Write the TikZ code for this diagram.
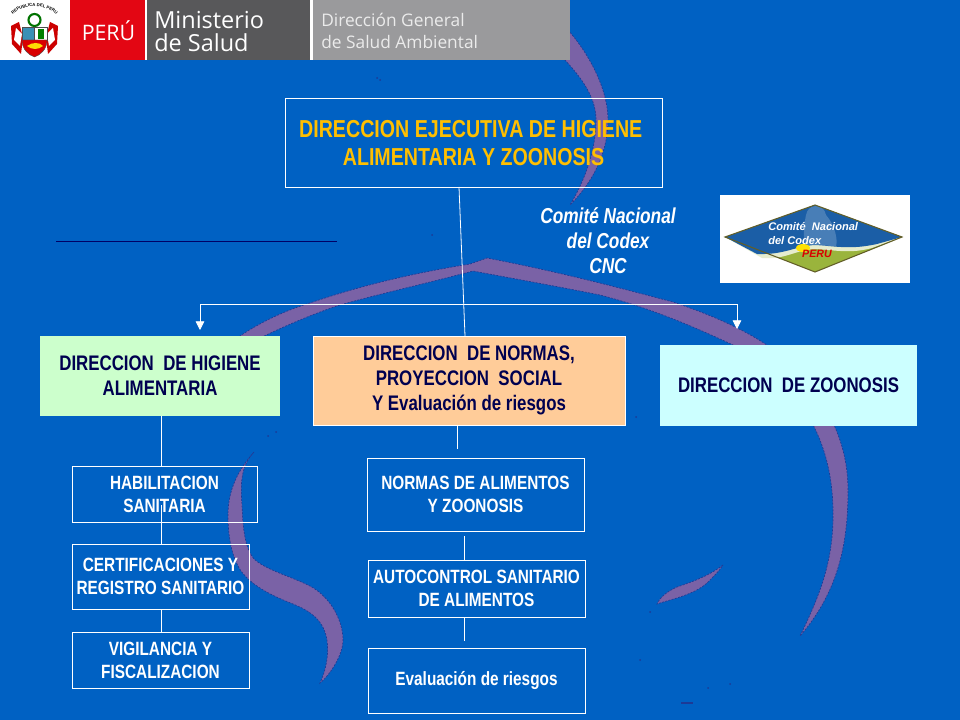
\documentclass[tikz,border=0pt]{standalone}
\usepackage{fontspec}
\setmainfont{Liberation Sans}
\newfontfamily\narrowf[FakeStretch=0.8]{Liberation Sans}
\newfontfamily\openf{Open Sans}
\usetikzlibrary{arrows.meta,decorations.text}
\definecolor{bgblue}{HTML}{0061C3}
\definecolor{swoosh}{HTML}{7A62A6}
\definecolor{swedge}{HTML}{1C3A96}
\definecolor{navytxt}{HTML}{000050}
\definecolor{gold}{HTML}{FFBF00}
\definecolor{minred}{HTML}{E30613}
\definecolor{mindark}{HTML}{58585A}
\definecolor{mingray}{HTML}{9A9A9C}
\definecolor{lgreen}{HTML}{CCFFCC}
\definecolor{lorange}{HTML}{FFCC99}
\definecolor{lcyan}{HTML}{CCFFFF}
\definecolor{logoblue}{HTML}{1B5EA6}
\definecolor{logogreen}{HTML}{9AB43C}
\tikzset{
  x=0.75pt,y=-0.75pt,
  wh/.style 2 args={minimum width=#1*0.75pt,minimum height=#2*0.75pt},
  base/.style={inner sep=0pt,align=center,anchor=center},
  band/.style={inner sep=0pt,draw=none},
  sub/.style={base,draw=white,line width=0.55pt,text=white,font=\narrowf\bfseries\fontsize{14.4}{17.2}\selectfont},
  main/.style={base,draw=white,line width=0.55pt,text=navytxt,font=\narrowf\bfseries\fontsize{15.8}{18.6}\selectfont},
  wire/.style={draw=white,line width=0.6pt},
  sw/.style={fill=swoosh,draw=swedge,line width=0.5pt,dash pattern=on 1.5pt off 1pt},
  speck/.style={fill=swedge,draw=none},
}
\begin{document}
\begin{tikzpicture}
\useasboundingbox[fill=bgblue] (0,0) rectangle (960,720);

% swooshes
\path[sw] (568,30) .. controls (590,55) and (608,90) .. (608,120)
  .. controls (608,150) and (595,180) .. (570,205)
  .. controls (585,180) and (596,150) .. (596,120)
  .. controls (596,100) and (585,80) .. (560,55) -- cycle;
\path[sw] (200,372) .. controls (225,340) and (270,315) .. (310,303)
  .. controls (365,284) and (420,272) .. (470,264) -- (487,258)
  .. controls (560,272) and (620,288) .. (673,302)
  .. controls (720,318) and (790,345) .. (820,400)
  .. controls (840,430) and (848,460) .. (848,490)
  .. controls (848,540) and (840,590) .. (800,636)
  .. controls (820,595) and (834,560) .. (833,510)
  .. controls (832,450) and (810,390) .. (733,345)
  .. controls (690,325) and (650,308) .. (600,295)
  .. controls (550,285) and (510,278) .. (473,271)
  .. controls (420,285) and (375,295) .. (340,305)
  .. controls (300,318) and (240,345) .. (200,372) -- cycle;
\path[sw] (723,565) .. controls (710,575) and (695,581) .. (677,587)
  .. controls (668,591) and (660,597) .. (657,604)
  .. controls (668,600) and (695,595) .. (708,582)
  .. controls (714,576) and (720,570) .. (723,565) -- cycle;
\path[sw] (254,452) .. controls (242,465) and (240,480) .. (242,505)
  .. controls (243,530) and (245,548) .. (254,559)
  .. controls (266,570) and (290,576) .. (310,586)
  .. controls (332,598) and (343,622) .. (343,640)
  .. controls (343,655) and (330,675) .. (320,683)
  .. controls (326,670) and (329,655) .. (327,640)
  .. controls (324,622) and (313,612) .. (293,604)
  .. controls (273,596) and (253,587) .. (241,571)
  .. controls (231,556) and (228,535) .. (228,515)
  .. controls (228,490) and (238,470) .. (254,452) -- cycle;

% specks
\fill[speck] (681,702) rectangle (693,704);
\foreach \sx/\sy in {380/80,432/235,615/410,636/417,268/436,276/432,650/612,708/688,640/660,377/78,730/684}{
  \fill[speck] (\sx,\sy) circle[radius=1];
}

% header band
\fill[white] (0,0) rectangle (570,60);
\node[band,fill=minred,wh={75}{60},anchor=north west] (hr) at (70,0) {};
\node[band,fill=mindark,wh={163}{60},anchor=north west] (hd) at (147,0) {};
\node[band,fill=mingray,wh={257}{60},anchor=north west] (hg) at (313,0) {};
\node[text=white,inner sep=0pt,font=\openf\fontsize{16}{16}\selectfont] (tperu) at (108.5,31) {PERÚ};
\node[text=white,inner sep=0pt,anchor=base west,font=\openf\fontsize{17.6}{18}\selectfont] (tmin) at (154,29) {Ministerio};
\node[text=white,inner sep=0pt,anchor=base west,font=\openf\fontsize{17.6}{18}\selectfont] (tsal) at (154,52) {de Salud};
\node[text=white!92!black,inner sep=0pt,align=left,anchor=west,font=\openf\fontsize{13}{16}\selectfont] (tdir) at (321,31) {Dirección General\\de Salud Ambiental};
% coat of arms
\draw[green!45!black,line width=1.6pt] (34.5,20) circle[radius=6];
\fill[red!80!black] (11,26) -- (19,22) -- (23,38) -- (21,54) -- (12,44) -- cycle;
\fill[red!80!black] (58,26) -- (50,22) -- (46,38) -- (48,54) -- (57,44) -- cycle;
\fill[white] (16,28) -- (14,40) -- (20,46) -- (22,34) -- cycle;
\fill[white] (53,28) -- (55,40) -- (49,46) -- (47,34) -- cycle;
\fill[cyan!70!black,draw=black!70,line width=0.3pt] (22,27) rectangle (34,40);
\fill[white,draw=black!70,line width=0.3pt] (34,27) rectangle (47,40);
\fill[green!50!black] (38,29) rectangle (44,39);
\fill[red!85!black,draw=black!70,line width=0.3pt] (22,40) -- (47,40) .. controls (47,50) and (40,55) .. (34.5,57) .. controls (29,55) and (22,50) .. (22,40) -- cycle;
\fill[yellow!80!orange] (27,46) .. controls (32,42) and (40,42) .. (43,46) .. controls (38,50) and (32,50) .. (27,46) -- cycle;
\path[decorate,decoration={text along path,text align=center,text={|\fontsize{3.2}{4}\selectfont\bfseries\color{black}|REPUBLICA DEL PERU}}]
  (8,22) .. controls (16,1) and (53,1) .. (61,22);

% logo
\node[band,fill=white,wh={190}{88},anchor=north west] (logo) at (720,195) {};
\fill[logogreen] (725,237) -- (815,205) -- (902,237) -- (815,272) -- cycle;
\fill[white!75!logogreen] (725,237) -- (815,205) -- (902,237) -- (872,248) .. controls (850,254) and (835,250) .. (815,249) .. controls (795,250) and (785,260) .. (762,258) -- cycle;
\fill[logoblue] (725,237) -- (815,205) -- (902,237) -- (877,244) .. controls (850,250) and (835,246) .. (815,245) .. controls (795,246) and (785,255) .. (757,254) -- cycle;
\fill[white,opacity=0.2] (806,215) .. controls (808,203) and (824,203) .. (826,215) .. controls (835,225) and (838,240) .. (836,246) -- (805,245) .. controls (803,235) and (804,225) .. (806,215) -- cycle;
\fill[yellow!85!orange] (803,248) ellipse[x radius=7,y radius=4];
\draw[olive!60!black,line width=0.8pt] (725,237) -- (815,205) -- (902,237) -- (815,272) -- cycle;
\node[text=white,inner sep=0pt,align=left,anchor=west,font=\bfseries\itshape\fontsize{8.3}{9.8}\selectfont] (ltxt) at (768,233.5) {Comité\ \ Nacional\\del Codex};
\node[text=red!85!black,inner sep=0pt,font=\bfseries\itshape\fontsize{8}{8}\selectfont] (lper) at (817,254) {PERU};

% dark rule
\coordinate (ra) at (56,241);
\coordinate (rb) at (337,241);
\draw[draw=blue!40!black,line width=0.55pt] (ra) -- (rb);

% boxes
\node[base,draw=white,line width=0.55pt,wh={377}{89},text=gold,font=\narrowf\bfseries\fontsize{18.4}{21.6}\selectfont] (top) at (473.5,143) {DIRECCION EJECUTIVA DE HIGIENE\ \ \\ALIMENTARIA Y ZOONOSIS};
\node[base,text=white,font=\narrowf\bfseries\itshape\fontsize{16.2}{18.8}\selectfont] (cnc) at (608,241) {Comité Nacional\\del Codex\\CNC};

\node[main,draw=none,fill=lgreen,wh={240}{80}] (dha) at (160,376) {DIRECCION\ \ DE HIGIENE\\ALIMENTARIA};
\node[main,fill=lorange,wh={312}{89}] (dno) at (469,380.5) {DIRECCION\ \ DE NORMAS,\\PROYECCION\ \ SOCIAL\\Y Evaluación de riesgos};
\node[main,draw=none,fill=lcyan,wh={257}{81}] (dzo) at (788.5,385.5) {DIRECCION\ \ DE ZOONOSIS};

\node[sub,wh={185}{56}] (hab) at (164.5,494) {HABILITACION\\SANITARIA};
\node[sub,wh={177}{65}] (cer) at (160.5,576.5) {CERTIFICACIONES Y\\REGISTRO SANITARIO};
\node[sub,wh={177}{56}] (vig) at (160.5,660) {VIGILANCIA Y\\FISCALIZACION};
\node[sub,wh={217}{73}] (nor) at (475.5,494.5) {NORMAS DE ALIMENTOS\\Y ZOONOSIS};
\node[sub,wh={217}{57}] (aut) at (476.5,588.5) {AUTOCONTROL SANITARIO\\DE ALIMENTOS};
\node[sub,wh={217}{65}] (eva) at (476.5,680.5) {Evaluación de riesgos};

% connector anchors
\coordinate (cta) at (459,187);
\coordinate (ctb) at (465,336);
\coordinate (jn) at (465,304);
\coordinate (al) at (200,304);
\coordinate (ar) at (737,304);
\coordinate (xl) at (161,0);
\coordinate (xn) at (457,0);
\coordinate (xm) at (464,0);
\coordinate (s1) at (161,505);
\coordinate (s2) at (457,449);
\coordinate (s3) at (464,536);
\coordinate (s4) at (464,641);

\draw[wire] (cta) -- (ctb);
\draw[wire,-{Triangle[width=6.5pt,length=6.5pt]}] (jn) -- (al) -- (200,330);
\draw[wire,-{Triangle[width=6.5pt,length=6.5pt]}] (jn) -- (ar) -- (737,329);
\draw[wire] (dha.south -| xl) -- (hab.north -| xl);
\draw[wire] (s1) -- (cer.north -| xl);
\draw[wire] (cer.south -| xl) -- (vig.north -| xl);
\draw[wire] (dno.south -| xn) -- (s2);
\draw[wire] (s3) -- (aut.north -| xm);
\draw[wire] (aut.south -| xm) -- (s4);
\end{tikzpicture}
\end{document}
